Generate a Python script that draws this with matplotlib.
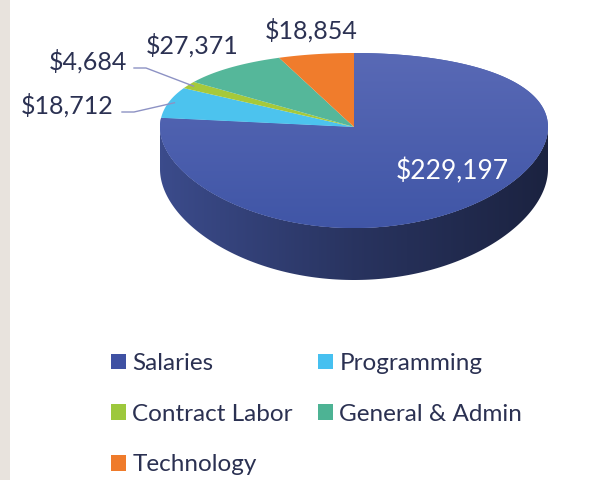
import matplotlib.pyplot as plt
import numpy as np
from matplotlib.patches import Polygon, Rectangle, Patch
from matplotlib.colors import to_rgb, LinearSegmentedColormap

categories = ["Salaries", "Programming", "Contract Labor", "General & Admin", "Technology"]
values = [229197, 18712, 4684, 27371, 18854]
labels = ["$229,197", "$18,712", "$4,684", "$27,371", "$18,854"]

top_colors = ["#4a5eae", "#4cc3ee", "#a6c93a", "#55b79a", "#f07c2c"]
legend_colors = ["#3f51a3", "#46c0f0", "#9dc83c", "#4db394", "#ef7b2b"]

plt.rcParams['font.family'] = ['Lato', 'DejaVu Sans']
text_col = "#2b3152"

# fake 3d ellipse, pixel coords (y down)
cx, cy = 354, 127
rx, ry, bend = 194, 87.5, 13.5


def proj(t, r=1.0):
    a = np.radians(t)
    s = np.sin(a) * r
    return cx + rx * r * np.cos(a), cy - ry * s + bend * s * s


def depth(t):
    return 42 - 10 * np.sin(np.radians(t))


fig = plt.figure(figsize=(5.95, 4.8), dpi=100)
ax = fig.add_axes([0, 0, 1, 1])
ax.add_patch(Rectangle((0, 0), 10, 480, color="#e8e3dd", lw=0))

total = sum(values)
ends = 90 - 360 * np.cumsum(values) / total
starts = np.concatenate([[90], ends[:-1]])

# side wall, only the front half is visible; shaded left -> right
for i in range(len(values)):
    for k in (-360, 0, 360):
        lo = max(ends[i] + k, -180)
        hi = min(starts[i] + k, 0)
        if lo >= hi:
            continue
        ts = np.linspace(lo, hi, int(hi - lo) + 2)
        xs, ys = proj(ts)
        ys_b = ys + depth(ts)
        pts = list(zip(xs, ys)) + list(zip(xs[::-1], ys_b[::-1]))
        side = Polygon(pts, closed=True, fc="none", ec="none")
        ax.add_patch(side)
        base = np.array(to_rgb(top_colors[i]))
        cmap = LinearSegmentedColormap.from_list(
            "side%d" % i, [base * 0.80, base * 0.55, base * 0.37])
        grad = np.linspace(0, 1, 300).reshape(1, -1)
        im = ax.imshow(grad, cmap=cmap, extent=[cx - rx, cx + rx, 290, 100],
                       origin="upper", aspect="auto", zorder=1)
        im.set_clip_path(side)

# top face
for i in range(len(values)):
    ts = np.linspace(starts[i], ends[i], max(int(abs(starts[i] - ends[i])), 2) + 1)
    xs, ys = proj(ts)
    pts = [(cx, cy)] + list(zip(xs, ys))
    poly = Polygon(pts, closed=True, fc=top_colors[i], ec="none", zorder=2)
    ax.add_patch(poly)
    if i == 0:
        cmap = LinearSegmentedColormap.from_list("sal", ["#5a6ab6", "#3f55a6"])
        grad = np.linspace(0, 1, 200).reshape(-1, 1)
        im = ax.imshow(grad, cmap=cmap, extent=[150, 560, 235, 45],
                       origin="upper", aspect="auto", zorder=2)
        im.set_clip_path(poly)

# data labels
ax.text(452, 171, labels[0], color="white", fontsize=19, ha="center", va="center", zorder=5)
label_pos = [None, (67, 105), (88, 61), (192, 45), (311, 30)]
for i in range(1, len(values)):
    x, y = label_pos[i]
    ax.text(x, y, labels[i], color=text_col, fontsize=18, ha="center", va="center", zorder=5)

# leader lines for the two small slices
lead_start = {1: (122, 112), 2: (134, 68)}
for i, (sx, sy) in lead_start.items():
    mid = (starts[i] + ends[i]) / 2
    px, py = proj(mid, 0.97)
    ax.plot([sx, sx + 12, px], [sy, sy, py], color="#8d92c4", lw=1, zorder=4)

# legend, row-major order
order = [0, 2, 4, 1, 3]
handles = [Patch(fc=legend_colors[i], ec="none") for i in order]
leg = ax.legend(handles, [categories[i] for i in order], ncol=2,
                loc="upper left", bbox_to_anchor=(111 / 595, 1 - 353 / 480),
                frameon=False, fontsize=17.5, handlelength=0.62, handleheight=0.62,
                handletextpad=0.25, columnspacing=1.05, labelspacing=1.22,
                borderpad=0, borderaxespad=0)
for t in leg.get_texts():
    t.set_color(text_col)

ax.set_xlim(0, 595)
ax.set_ylim(480, 0)
ax.axis("off")
fig.savefig("out.png", dpi=100)
